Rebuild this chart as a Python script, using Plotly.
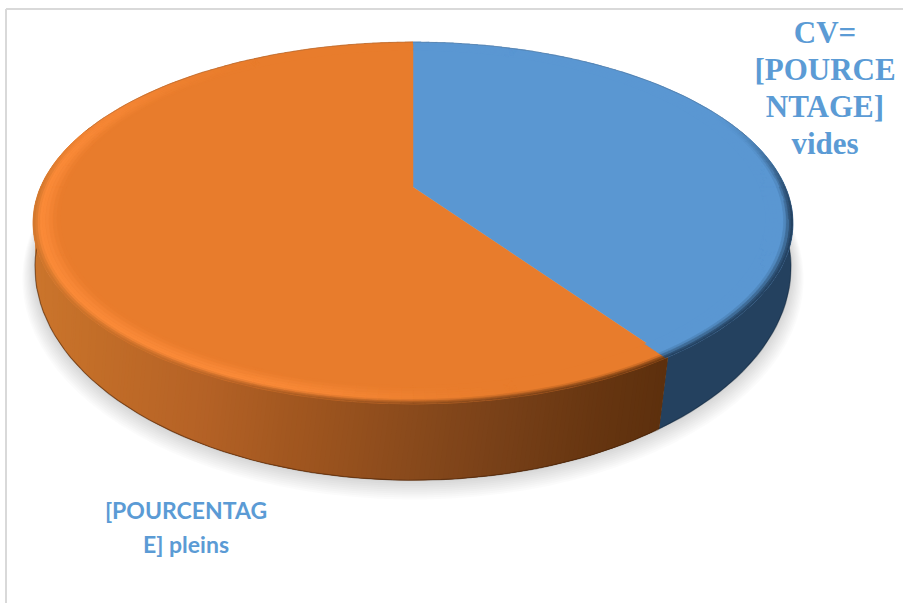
import math
import plotly.graph_objects as go

# Chart content
categories = ["vides", "pleins"]
shares = [40.3, 59.7]
slice_colors = ["#5a97d2", "#e87c2c"]
side_blue = "#24415f"
rim_highlight = "#fa8a38"
serif_label_lines = ["CV=", "[POURCE", "NTAGE]", "vides"]
sans_label_lines = ["[POURCENTAG", "E] pleins"]
label_color = "#5b9bd5"

# Orange wall shading, left to right across the canvas
wall_x = [33, 100, 200, 300, 400, 500, 600, 670]
wall_colors = ["#cb752c", "#c26d28", "#b56226", "#a0561f", "#8b4b1c", "#784018", "#663510", "#5c2f0d"]

# Projection of the disc: a perspective squeeze looking down from the front
CX, TOP_APEX, LOW_APEX = 413.0, 187.0, 224.8
K = 0.1988
TOP_A, TOP_B = 372.4, 173.8
LOW_A, LOW_B = 370.5, 204.7
LOW_TWIST = 1.3


def project(theta, r=1.0, a=TOP_A, b=TOP_B, apex=TOP_APEX, dy=0.0):
    t = math.radians(theta)
    u, v = r * math.sin(t), -r * math.cos(t)
    d = 1 - K * v
    return CX + a * u / d, apex + dy + b * v / d


def project_low(theta, r=1.0, dy=0.0):
    return project(theta + LOW_TWIST, r, LOW_A, LOW_B, LOW_APEX, dy)


def to_rgb(c):
    return tuple(int(c[i:i + 2], 16) for i in (1, 3, 5))


def mix(c1, c2, w):
    w = max(0.0, min(1.0, w))
    a, b = to_rgb(c1), to_rgb(c2)
    return "#%02x%02x%02x" % tuple(round(a[i] + (b[i] - a[i]) * w) for i in range(3))


def smooth(lo, hi, x):
    t = max(0.0, min(1.0, (x - lo) / (hi - lo)))
    return t * t * (3 - 2 * t)


def wall_orange(x):
    for i in range(len(wall_x) - 1):
        if x <= wall_x[i + 1]:
            return mix(wall_colors[i], wall_colors[i + 1], (x - wall_x[i]) / (wall_x[i + 1] - wall_x[i]))
    return wall_colors[-1]


def arange(start, stop, step):
    n = max(1, round((stop - start) / step))
    return [start + (stop - start) * i / n for i in range(n + 1)]


fig = go.Figure()
buckets = {}


def add_poly(color, pts):
    xs, ys = buckets.setdefault(color, ([], []))
    xs.extend(p[0] for p in pts)
    xs.append(pts[0][0])
    xs.append(None)
    ys.extend(p[1] for p in pts)
    ys.append(pts[0][1])
    ys.append(None)


def flush(line_width=0.5):
    for color, (xs, ys) in buckets.items():
        if line_width:
            fig.add_trace(go.Scatter(x=xs, y=ys, mode="lines", fill="toself", fillcolor=color,
                                     line=dict(color=color, width=line_width), hoverinfo="skip",
                                     showlegend=False))
        else:
            fig.add_trace(go.Scatter(x=xs, y=ys, mode="none", fill="toself", fillcolor=color,
                                     hoverinfo="skip", showlegend=False))
    buckets.clear()


boundary = 360 * shares[0] / sum(shares)

# Soft cast shadow beneath the disc
for i in range(10, 0, -1):
    s = 1 + i * 0.0032
    pts = [project_low(t, s, i * 0.9) for t in arange(0, 360, 3)]
    fig.add_trace(go.Scatter(x=[p[0] for p in pts], y=[p[1] for p in pts], mode="lines", fill="toself",
                             fillcolor="rgba(0,0,0,0.017)", line=dict(width=0), hoverinfo="skip",
                             showlegend=False))

# Outer wall: overlapping strips painted in angular order so no seams show
edges = arange(70, 292, 0.6)
for t0, t1 in zip(edges[:-1], edges[1:]):
    mid = (t0 + t1) / 2
    over = min(t1 + 1.2, 292)
    if mid < boundary:
        over = min(over, boundary)
    a0, a1 = project(t0), project(over)
    b1, b0 = project_low(over), project_low(t0)
    color = side_blue if mid < boundary else wall_orange((a0[0] + project(t1)[0] + b0[0] + project_low(t1)[0]) / 4)
    add_poly(color, [a0, a1, b1, b0])
flush(0)

# Dark seam along the foot of the wall
for lo, hi, col in [(70, boundary, "rgba(15,35,55,0.45)"), (boundary, 292, "rgba(60,28,5,0.5)")]:
    pts = [project_low(t) for t in arange(lo, hi, 2)]
    fig.add_trace(go.Scatter(x=[p[0] for p in pts], y=[p[1] for p in pts], mode="lines",
                             line=dict(color=col, width=1.2), hoverinfo="skip", showlegend=False))

# Flat top faces of both slices
ranges = [(0, boundary), (boundary, 360)]
for (lo, hi), color, name in zip(ranges, slice_colors, categories):
    pts = [project(t, 1.0) for t in arange(lo, hi, 1)] + [project(0, 0)]
    fig.add_trace(go.Scatter(x=[p[0] for p in pts], y=[p[1] for p in pts], mode="lines", fill="toself",
                             fillcolor=color, line=dict(color=color, width=0.5), name=name,
                             hoverinfo="skip", showlegend=False))

# Bevelled rim: lit on the orange front-left, falling into the wall on the front
radii = [0.93, 0.94, 0.95, 0.96, 0.968, 0.976, 0.983, 0.989, 0.995, 1.0]
step = 1.5
for t0 in arange(0, 360 - step, step):
    t1 = t0 + step
    mid = (t0 + t1) / 2
    in_blue = mid < boundary
    x_mid = project(mid)[0]
    for r0, r1 in zip(radii[:-1], radii[1:]):
        rm = (r0 + r1) / 2
        front = smooth(62, 100, mid) * (1 - smooth(262, 300, mid))
        if in_blue:
            color = mix(slice_colors[0], side_blue, front * smooth(0.972, 1.0, rm))
        else:
            lit = smooth(165, 205, mid) * (1 - smooth(275, 335, mid))
            glow = smooth(0.93, 0.978, rm)
            base = mix(slice_colors[1], rim_highlight, lit * glow)
            color = mix(base, wall_orange(x_mid), front * smooth(0.98, 1.0, rm) * 0.9)
        add_poly(color, [project(t0, r0), project(t1, r0), project(t1, r1), project(t0, r1)])
flush()

# Faint dark line on the far edge of the disc
pts = [project(t, 1.0) for t in arange(-70, 72, 2)]
fig.add_trace(go.Scatter(x=[p[0] for p in pts], y=[p[1] for p in pts], mode="lines",
                         line=dict(color="rgba(60,60,60,0.22)", width=1), hoverinfo="skip", showlegend=False))

# Data labels, one text mark per line
fig.add_trace(go.Scatter(x=[825] * len(serif_label_lines), y=[35, 72, 109, 146], mode="text",
                         text=[f"<b>{s}</b>" for s in serif_label_lines], textposition="middle center",
                         hoverinfo="skip",
                         textfont=dict(family="'Liberation Serif', 'Times New Roman', serif", size=31,
                                       color=label_color),
                         showlegend=False))
fig.add_trace(go.Scatter(x=[186, 186], y=[513, 547], mode="text",
                         text=[f"<b>{s}</b>" for s in sans_label_lines], textposition="middle center",
                         hoverinfo="skip",
                         textfont=dict(family="Lato, sans-serif", size=23, color=label_color),
                         showlegend=False))

fig.update_layout(
    width=903, height=603, margin=dict(l=0, r=0, t=0, b=0),
    paper_bgcolor="white", plot_bgcolor="white", showlegend=False,
    xaxis=dict(range=[0, 903], visible=False, fixedrange=True),
    yaxis=dict(range=[603, 0], visible=False, fixedrange=True),
    shapes=[
        dict(type="line", xref="x", yref="y", x0=6, x1=903, y0=9, y1=9, line=dict(color="#d9d9d9", width=2)),
        dict(type="line", xref="x", yref="y", x0=6, x1=6, y0=9, y1=603, line=dict(color="#d9d9d9", width=2)),
    ],
)
fig.write_html("out.html", config=dict(displayModeBar=False))
